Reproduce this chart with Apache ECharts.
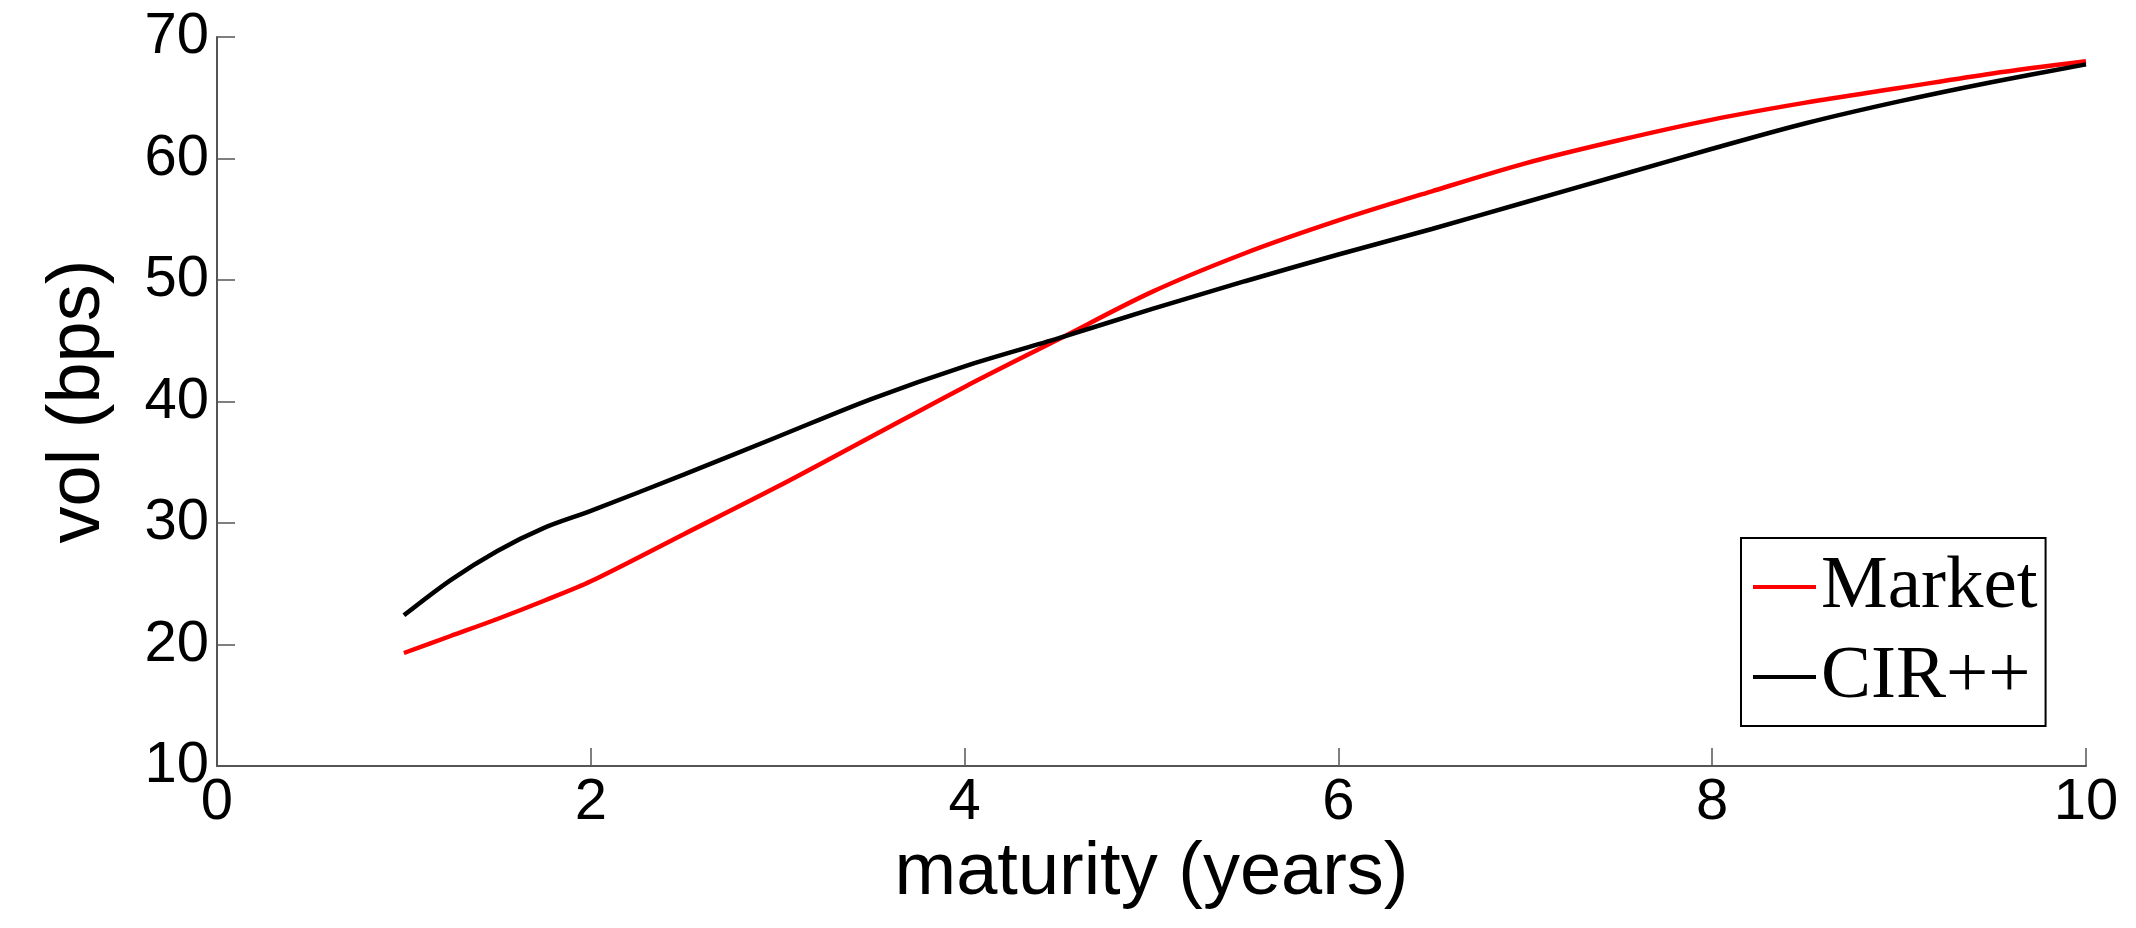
<!DOCTYPE html>
<html>
<head>
<meta charset="utf-8">
<title>vol vs maturity</title>
<script src="https://cdn.jsdelivr.net/npm/echarts@6/dist/echarts.min.js"></script>
<style>
  html, body { margin: 0; padding: 0; background: #fff; }
  #main { width: 2136px; height: 928px; }
</style>
</head>
<body>
<div id="main"></div>
<script>
// maturity (years)
var maturity = [1, 1.25, 1.5, 1.75, 2, 2.5, 3, 3.5, 4, 4.5, 5, 5.5, 6, 6.5, 7, 7.5, 8, 8.5, 9, 9.5, 10];
// vol (bps)
var market = [19.3, 20.7, 22.1, 23.6, 25.2, 29.1, 33.0, 37.1, 41.2, 45.1, 49.0, 52.2, 54.9, 57.3, 59.6, 61.5, 63.2, 64.6, 65.8, 67.0, 68.0];
var cir = [22.4, 25.3, 27.7, 29.6, 31.0, 34.0, 37.1, 40.2, 42.9, 45.2, 47.6, 49.9, 52.1, 54.2, 56.4, 58.6, 60.8, 62.9, 64.7, 66.3, 67.75];
var xTicks = [0, 2, 4, 6, 8, 10];
var yTicks = [10, 20, 30, 40, 50, 60, 70];

function pairs(xs, ys) {
    return xs.map(function (x, i) { return [x, ys[i]]; });
}

var myChart = echarts.init(document.getElementById('main'));

var axisFont = 'Liberation Sans, Arial, Helvetica, sans-serif';

option = {
    animation: false,
    backgroundColor: '#fff',
    grid: {
        left: 217,
        right: 50,
        top: 37,
        bottom: 162
    },
    legend: {
        left: 1741,
        top: 538,
        orient: 'vertical',
        icon: 'rect',
        itemWidth: 63,
        itemHeight: 4,
        itemGap: 10,
        padding: [9, 8, 9, 12],
        borderColor: '#000',
        borderWidth: 2,
        backgroundColor: '#fff',
        textStyle: {
            fontFamily: 'Liberation Serif, Times New Roman, serif',
            fontSize: 75,
            lineHeight: 80,
            color: '#000'
        },
        data: ['Market', 'CIR++']
    },
    xAxis: {
        type: 'value',
        min: xTicks[0],
        max: xTicks[xTicks.length - 1],
        interval: 2,
        name: 'maturity (years)',
        nameLocation: 'middle',
        nameGap: 64,
        nameTextStyle: { fontFamily: axisFont, fontSize: 74, color: '#000' },
        axisLine: { lineStyle: { color: '#555', width: 2 } },
        axisTick: { inside: true, length: 18, lineStyle: { color: '#555', width: 1.5 } },
        axisLabel: { fontFamily: axisFont, fontSize: 58, color: '#000', margin: 8 },
        splitLine: { show: false }
    },
    yAxis: {
        type: 'value',
        min: yTicks[0],
        max: yTicks[yTicks.length - 1],
        interval: 10,
        name: 'vol (bps)',
        nameLocation: 'middle',
        nameGap: 101,
        nameTextStyle: { fontFamily: axisFont, fontSize: 74, color: '#000' },
        axisLine: { show: true, lineStyle: { color: '#555', width: 2 } },
        axisTick: { show: true, inside: true, length: 18, lineStyle: { color: '#555', width: 1.5 } },
        axisLabel: { fontFamily: axisFont, fontSize: 58, color: '#000', margin: 8 },
        splitLine: { show: false }
    },
    series: [
        {
            name: 'Market',
            type: 'line',
            data: pairs(maturity, market),
            smooth: 0.3,
            showSymbol: false,
            itemStyle: { color: '#ff0000' },
            lineStyle: { color: '#ff0000', width: 4.5 }
        },
        {
            name: 'CIR++',
            type: 'line',
            data: pairs(maturity, cir),
            smooth: 0.3,
            showSymbol: false,
            itemStyle: { color: '#000000' },
            lineStyle: { color: '#000000', width: 4.5 }
        }
    ]
};

myChart.setOption(option);
</script>
</body>
</html>
